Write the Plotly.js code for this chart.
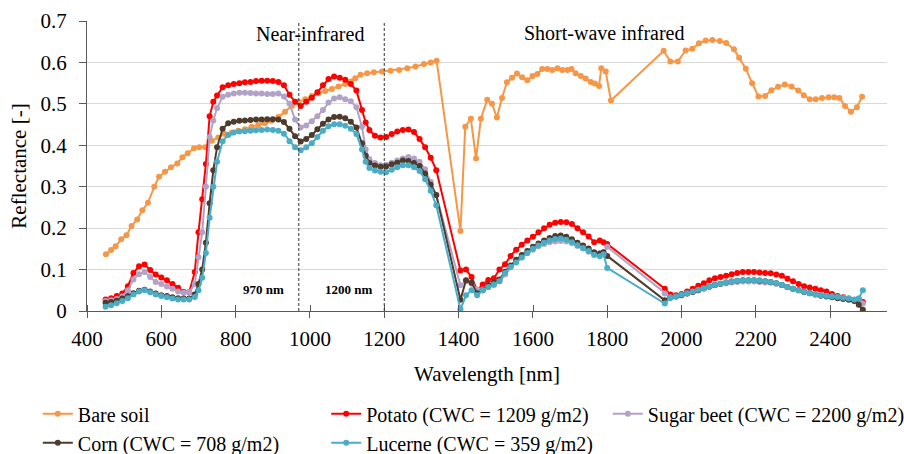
<!DOCTYPE html>
<html>
<head>
<meta charset="utf-8">
<script src="https://cdn.plot.ly/plotly-3.0.1.min.js"></script>
<style>html,body{margin:0;padding:0;background:#fff;}#chart{width:904px;height:454px;}</style>
</head>
<body>
<div id="chart"></div>
<script>
// ---- Data ----
const soilWavelength = [451,465,477,492,506,520,535,549,564,581,594,610,626,643,657,671,688,702,718,736,753,771,789,807,825,843,861,879,897,915,933,951,969,987,1005,1023,1041,1059,1077,1095,1110,1122,1136,1154,1172,1194,1217,1240,1262,1284,1307,1325,1341,
  1405,1418,1433,1447,1460,1477,1490,1503,1517,1530,1544,1557,1571,1585,1599,1612,1625,1639,1652,1666,1679,1693,1704,1715,1729,1742,1756,1767,1778,1784,1796,1810,
  1952,1970,1990,2011,2029,2047,2065,2083,2103,2120,2141,2155,2173,2190,2207,2225,2242,2260,2278,2296,2314,2329,2345,2361,2378,2396,2411,2425,2440,2456,2472,2486];
const bareSoil = [0.137,0.147,0.156,0.173,0.183,0.205,0.221,0.243,0.261,0.300,0.324,0.336,0.347,0.356,0.371,0.381,0.393,0.395,0.395,0.411,0.419,0.427,0.430,0.435,0.439,0.445,0.449,0.453,0.459,0.468,0.481,0.495,0.505,0.511,0.519,0.526,0.531,0.536,0.542,0.548,0.554,0.562,0.570,0.574,0.576,0.578,0.580,0.582,0.586,0.590,0.596,0.600,0.604,
  0.193,0.445,0.464,0.368,0.464,0.510,0.500,0.467,0.514,0.552,0.563,0.573,0.564,0.557,0.567,0.572,0.584,0.584,0.582,0.586,0.582,0.582,0.584,0.574,0.567,0.561,0.553,0.549,0.543,0.586,0.578,0.508,
  0.628,0.602,0.602,0.629,0.633,0.646,0.653,0.654,0.652,0.647,0.632,0.611,0.585,0.550,0.518,0.519,0.533,0.541,0.547,0.542,0.532,0.521,0.511,0.511,0.514,0.516,0.516,0.514,0.495,0.481,0.492,0.517];

const cropWavelength = [450,465,480,495,510,525,540,555,570,585,600,615,630,645,660,675,690,700,710,720,730,740,750,765,780,795,810,825,840,855,870,885,900,915,930,945,960,975,990,1005,1020,1035,1050,1065,1080,1095,1110,1125,1140,1150,1160,1175,1190,1205,1220,1235,1250,1265,1280,1295,1310,1325,1340,
  1405,1420,1435,1450,1465,1480,1495,1510,1525,1540,1555,1570,1585,1600,1615,1630,1645,1660,1675,1690,1705,1720,1735,1750,1765,1780,1790,1800,
  1955,1970,1985,2000,2015,2030,2045,2060,2075,2090,2105,2120,2135,2150,2165,2180,2195,2210,2225,2240,2255,2270,2285,2300,2315,2330,2345,2360,2375,2390,2405,2420,2435,2450,2465,2477,2488];

const potato = [0.028,0.031,0.036,0.042,0.060,0.092,0.108,0.112,0.099,0.088,0.081,0.074,0.065,0.056,0.046,0.045,0.094,0.190,0.270,0.355,0.470,0.505,0.520,0.540,0.545,0.548,0.550,0.552,0.553,0.555,0.556,0.556,0.555,0.553,0.545,0.522,0.505,0.495,0.505,0.515,0.528,0.545,0.560,0.566,0.563,0.558,0.548,0.532,0.485,0.455,0.437,0.423,0.419,0.420,0.427,0.433,0.437,0.438,0.432,0.415,0.395,0.370,0.340,
  0.098,0.100,0.082,0.050,0.064,0.075,0.079,0.100,0.113,0.133,0.148,0.160,0.170,0.179,0.190,0.200,0.208,0.213,0.215,0.214,0.210,0.200,0.190,0.180,0.166,0.170,0.166,0.162,
  0.054,0.040,0.038,0.041,0.047,0.054,0.061,0.067,0.074,0.079,0.082,0.085,0.089,0.092,0.094,0.094,0.094,0.093,0.092,0.091,0.088,0.085,0.078,0.072,0.065,0.060,0.057,0.054,0.050,0.047,0.041,0.036,0.033,0.030,0.026,0.025,0.022];

const sugarBeet = [0.024,0.026,0.029,0.035,0.050,0.076,0.089,0.094,0.082,0.070,0.065,0.059,0.054,0.047,0.044,0.045,0.065,0.130,0.190,0.300,0.420,0.460,0.490,0.517,0.522,0.525,0.527,0.527,0.526,0.525,0.525,0.524,0.524,0.525,0.518,0.500,0.462,0.443,0.448,0.458,0.470,0.485,0.503,0.513,0.516,0.511,0.506,0.492,0.445,0.390,0.366,0.357,0.352,0.353,0.358,0.363,0.368,0.372,0.368,0.360,0.342,0.312,0.280,
  0.062,0.072,0.066,0.052,0.052,0.058,0.063,0.072,0.088,0.106,0.120,0.130,0.140,0.148,0.156,0.162,0.166,0.168,0.169,0.168,0.164,0.157,0.151,0.143,0.135,0.140,0.142,0.155,
  0.042,0.033,0.035,0.038,0.042,0.046,0.050,0.054,0.058,0.062,0.065,0.067,0.069,0.070,0.071,0.071,0.071,0.070,0.069,0.068,0.066,0.063,0.058,0.054,0.050,0.047,0.044,0.041,0.039,0.037,0.035,0.033,0.031,0.029,0.026,0.030,0.018];

const corn = [0.020,0.022,0.025,0.030,0.036,0.043,0.049,0.051,0.047,0.042,0.038,0.036,0.033,0.031,0.030,0.030,0.040,0.065,0.100,0.165,0.260,0.340,0.395,0.440,0.453,0.457,0.459,0.460,0.461,0.462,0.462,0.463,0.463,0.462,0.456,0.440,0.422,0.409,0.415,0.425,0.439,0.452,0.462,0.468,0.469,0.465,0.457,0.443,0.405,0.375,0.357,0.351,0.348,0.349,0.354,0.358,0.363,0.362,0.357,0.350,0.332,0.305,0.280,
  0.027,0.074,0.068,0.043,0.050,0.062,0.068,0.076,0.095,0.110,0.124,0.135,0.145,0.155,0.163,0.170,0.176,0.181,0.182,0.179,0.173,0.165,0.158,0.151,0.142,0.138,0.142,0.133,
  0.026,0.032,0.035,0.038,0.042,0.046,0.050,0.055,0.059,0.063,0.066,0.069,0.071,0.073,0.074,0.074,0.074,0.073,0.072,0.070,0.067,0.063,0.058,0.054,0.050,0.046,0.043,0.040,0.037,0.035,0.033,0.031,0.029,0.027,0.024,0.015,0.003];

const lucerne = [0.010,0.014,0.019,0.024,0.031,0.040,0.047,0.050,0.045,0.040,0.036,0.033,0.030,0.028,0.028,0.028,0.034,0.050,0.080,0.140,0.225,0.300,0.360,0.410,0.425,0.431,0.433,0.434,0.435,0.436,0.437,0.438,0.437,0.435,0.428,0.410,0.395,0.388,0.395,0.405,0.420,0.435,0.446,0.451,0.451,0.447,0.440,0.427,0.390,0.360,0.345,0.339,0.336,0.335,0.341,0.347,0.352,0.352,0.347,0.338,0.318,0.290,0.255,
  0.004,0.038,0.050,0.038,0.050,0.058,0.064,0.072,0.092,0.106,0.117,0.129,0.140,0.150,0.158,0.165,0.170,0.174,0.175,0.172,0.166,0.159,0.152,0.145,0.136,0.132,0.137,0.104,
  0.018,0.032,0.035,0.039,0.043,0.047,0.051,0.055,0.059,0.063,0.066,0.069,0.071,0.073,0.074,0.074,0.074,0.074,0.072,0.070,0.067,0.063,0.058,0.054,0.050,0.046,0.043,0.040,0.038,0.036,0.035,0.034,0.032,0.030,0.028,0.030,0.050];

const seriesNames = ['Bare soil', 'Potato (CWC = 1209 g/m2)', 'Sugar beet (CWC = 2200 g/m2)', 'Corn (CWC = 708 g/m2)', 'Lucerne (CWC = 359 g/m2)'];
const xTickVals = [400, 600, 800, 1000, 1200, 1400, 1600, 1800, 2000, 2200, 2400];
const yTickVals = [0, 0.1, 0.2, 0.3, 0.4, 0.5, 0.6, 0.7];
const bandLines = [970, 1200];
const bandLineLabels = ['970 nm', '1200 nm'];
const regionLabels = ['Near-infrared', 'Short-wave infrared'];

// ---- Styling ----
const FONT = 'Liberation Serif, serif';
const colors = ['#F79646', '#FF0000', '#B3A2C7', '#4E3B2C', '#4BACC6'];
const legendOf = ['legend', 'legend2', 'legend3', 'legend', 'legend2'];
const seriesY = [bareSoil, potato, sugarBeet, corn, lucerne];
const seriesX = [soilWavelength, cropWavelength, cropWavelength, cropWavelength, cropWavelength];

const traces = seriesNames.map((name, i) => ({
  type: 'scatter', mode: 'lines+markers', name: name,
  x: seriesX[i], y: seriesY[i],
  line: {color: colors[i], width: 2},
  marker: {color: colors[i], size: 6},
  legend: legendOf[i], legendgroup: 'g' + i,
  hoverinfo: 'x+y+name'
}));

const legendBase = {
  orientation: 'v', xanchor: 'left', yanchor: 'top', y: -0.287,
  font: {family: FONT, size: 20, color: '#000'},
  bgcolor: 'rgba(0,0,0,0)', borderwidth: 0, tracegroupgap: 0, itemwidth: 30
};

const layout = {
  width: 904, height: 454,
  margin: {l: 87, r: 17, t: 21, b: 143, pad: 0, autoexpand: false},
  paper_bgcolor: '#ffffff', plot_bgcolor: '#ffffff',
  font: {family: FONT, size: 21, color: '#000'},
  showlegend: true,
  legend: Object.assign({}, legendBase, {x: -0.0615}),
  legend2: Object.assign({}, legendBase, {x: 0.299}),
  legend3: Object.assign({}, legendBase, {x: 0.651}),
  xaxis: {
    range: [400, 2553], tickvals: xTickVals, ticktext: xTickVals.map(String),
    ticks: 'outside', ticklen: 6, tickcolor: '#595959', tickwidth: 1,
    ticklabelstandoff: 3,
    minor: {tickmode: 'array', tickvals: xTickVals.map(v => v + 0.3), ticks: 'inside', ticklen: 6, tickcolor: '#595959', showgrid: false},
    showline: true, linecolor: '#595959', linewidth: 1, showgrid: false, zeroline: false,
    tickfont: {family: FONT, size: 21, color: '#000'},
    title: {text: 'Wavelength [nm]', font: {family: FONT, size: 21, color: '#000'}, standoff: 16}
  },
  yaxis: {
    range: [0, 0.7], tickvals: yTickVals, ticktext: yTickVals.map(String),
    ticks: 'outside', ticklen: 7, tickcolor: '#595959', tickwidth: 1,
    ticklabelstandoff: 8,
    showline: true, linecolor: '#595959', linewidth: 1,
    showgrid: true, gridcolor: '#d9d9d9', gridwidth: 1, zeroline: false,
    tickfont: {family: FONT, size: 21, color: '#000'},
    title: {text: 'Reflectance [-]', font: {family: FONT, size: 21, color: '#000'}, standoff: 8}
  },
  shapes: bandLines.map(v => ({
    type: 'line', xref: 'x', yref: 'paper', x0: v, x1: v, y0: 0, y1: 1,
    line: {color: '#333333', width: 1, dash: '3px,2px'}, layer: 'above'
  })),
  annotations: [
    {text: regionLabels[0], x: 1000, y: 0.668, xref: 'x', yref: 'y', showarrow: false, font: {family: FONT, size: 20, color: '#000'}},
    {text: regionLabels[1], x: 1794, y: 0.671, xref: 'x', yref: 'y', showarrow: false, font: {family: FONT, size: 20, color: '#000'}},
    {text: '<b>' + bandLineLabels[0] + '</b>', x: 876, y: 0.053, xref: 'x', yref: 'y', showarrow: false, font: {family: FONT, size: 13, color: '#000'}},
    {text: '<b>' + bandLineLabels[1] + '</b>', x: 1104, y: 0.053, xref: 'x', yref: 'y', showarrow: false, font: {family: FONT, size: 13, color: '#000'}}
  ]
};

Plotly.newPlot('chart', traces, layout, {displayModeBar: false, staticPlot: true});
</script>
</body>
</html>
